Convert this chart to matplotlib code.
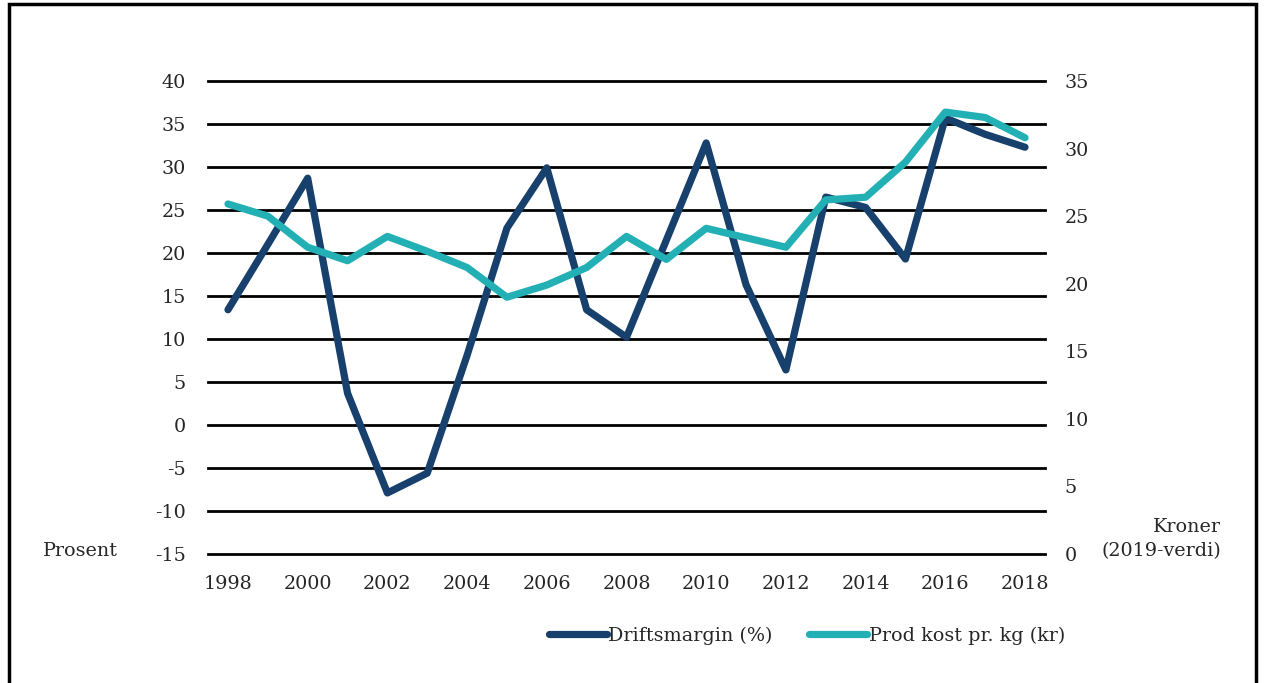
import matplotlib
matplotlib.use('Agg')
import matplotlib.pyplot as plt
from matplotlib.patches import Rectangle
import numpy as np

plt.rcParams['font.family'] = ['DejaVu Serif']
plt.rcParams['axes.unicode_minus'] = False

years = np.arange(1998, 2019)
# Driftsmargin (%), left axis
margin = [13.4, 21.0, 28.7, 3.7, -7.9, -5.6, 8.1, 22.9, 29.9, 13.4, 10.2,
          21.5, 32.8, 16.3, 6.4, 26.5, 25.3, 19.3, 35.7, 33.8, 32.3]
# Prod kost pr. kg (kr), right axis
cost = [25.9, 25.0, 22.7, 21.7, 23.5, 22.4, 21.2, 19.0, 19.9, 21.2, 23.5,
        21.8, 24.1, 23.4, 22.7, 26.2, 26.4, 29.0, 32.7, 32.3, 30.8]

left_ticks = np.arange(-15, 41, 5)
right_ticks = np.arange(0, 36, 5)
xticks = np.arange(1998, 2019, 2)

navy = '#17406d'
teal = '#23b0b5'
txt = '#262626'
fs = 13.8

fig = plt.figure(figsize=(12.64, 6.83), dpi=100)
ax = fig.add_axes([0.1646, 0.1889, 0.6621, 0.6925])

ax.plot(years, margin, color=navy, lw=5.2, solid_joinstyle='round',
        solid_capstyle='round', label='Driftsmargin (%)', zorder=3)
ax.set_xlim(1997.5, 2018.5)
ax.set_ylim(-15, 40)
ax.set_yticks(left_ticks)
ax.set_xticks(xticks)
for y in left_ticks:
    ax.axhline(y, color='black', lw=2, zorder=1, clip_on=False)
for s in ax.spines.values():
    s.set_visible(False)
ax.tick_params(axis='y', length=0, pad=16, labelsize=fs, labelcolor=txt)
ax.tick_params(axis='x', length=0, pad=15, labelsize=fs, labelcolor=txt)

ax2 = ax.twinx()
ax2.plot(years, cost, color=teal, lw=5.2, solid_joinstyle='round',
         solid_capstyle='round', label='Prod kost pr. kg (kr)', zorder=3)
ax2.set_ylim(0, 35)
ax2.set_yticks(right_ticks)
for s in ax2.spines.values():
    s.set_visible(False)
ax2.tick_params(axis='y', length=0, pad=14, labelsize=fs, labelcolor=txt)

fig.text(43 / 1264, 1 - 551 / 683, 'Prosent', fontsize=fs, color=txt,
         ha='left', va='center')
fig.text(1221 / 1264, 1 - 539 / 683, 'Kroner\n(2019-verdi)', fontsize=fs,
         color=txt, ha='right', va='center', multialignment='right',
         linespacing=1.45)

h1, l1 = ax.get_legend_handles_labels()
h2, l2 = ax2.get_legend_handles_labels()
fig.legend(h1 + h2, l1 + l2, loc='center', bbox_to_anchor=(807 / 1264, 1 - 636 / 683),
           ncol=2, frameon=False, fontsize=fs, handlelength=3.0,
           handletextpad=0.1, columnspacing=1.9, labelcolor=txt)

fig.patches.append(Rectangle((9 / 1264, -0.05), 1247 / 1264, 1.05 - 4 / 683,
                             transform=fig.transFigure, fill=False,
                             edgecolor='black', lw=2.5))

fig.savefig('out.png', dpi=100)
